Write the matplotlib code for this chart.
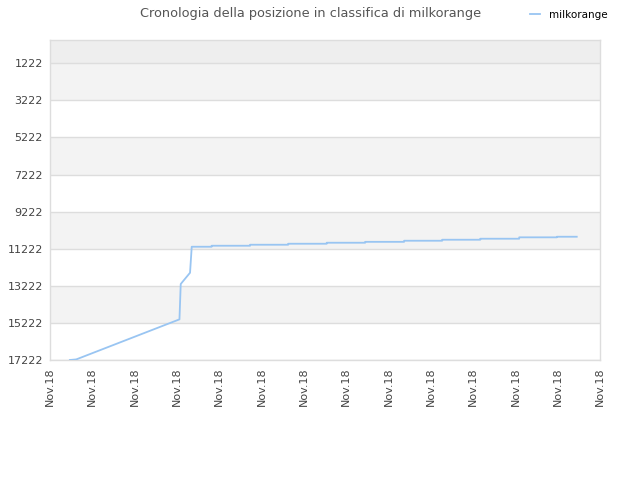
import matplotlib
matplotlib.use("Agg")
import matplotlib.pyplot as plt

# Data (x in tick-interval units, y = ranking position)
x_vals = [0.47, 0.62, 3.06, 3.09, 3.12, 3.31, 3.35, 3.82, 3.82, 4.73, 4.73, 5.63, 5.63, 6.54, 6.54,
          7.45, 7.45, 8.37, 8.37, 9.27, 9.27, 10.17, 10.17, 11.09, 11.09, 11.98, 11.98, 12.45]
ranks = [17222, 17190, 15030, 13126, 13040, 12516, 11114, 11114, 11060, 11060, 11006, 11006, 10952, 10952, 10898,
         10898, 10850, 10850, 10790, 10790, 10736, 10736, 10682, 10682, 10607, 10607, 10575, 10575]
y_ticks = [1222, 3222, 5222, 7222, 9222, 11222, 13222, 15222, 17222]
x_tick_labels = ["Nov.18"] * 14
series_name = "milkorange"
title = "Cronologia della posizione in classifica di milkorange"

fig = plt.figure(figsize=(6.4, 4.8), dpi=100)
ax = fig.add_axes([50/640, 120/480, 550/640, 320/480])

y_top = -35
ax.set_ylim(17222, y_top)
ax.set_xlim(0, 13)

# bands
ax.axhspan(y_top, y_ticks[0], color="#eeeeee", zorder=0, lw=0)
for i in range(0, len(y_ticks) - 1, 2):
    ax.axhspan(y_ticks[i], y_ticks[i + 1], color="#f3f3f3", zorder=0, lw=0)
for t in y_ticks:
    ax.axhline(t, color="#dddddd", lw=1, zorder=1)

ax.plot(x_vals, ranks, color="#99c5f2", lw=1.3, zorder=3, label=series_name)

ax.set_yticks(y_ticks)
ax.set_yticklabels([str(t) for t in y_ticks], fontsize=8, color="#444444")
ax.set_xticks(range(14))
ax.set_xticklabels(x_tick_labels, rotation=90, fontsize=8, color="#444444")
ax.tick_params(length=0, pad=5)

for s in ax.spines.values():
    s.set_color("#dddddd")
    s.set_linewidth(1)

fig.text(311/640, 1 - 13/480, title, ha="center", va="center", fontsize=9.3, color="#555555")
leg = fig.legend(loc="upper left", bbox_to_anchor=(530/640, 1 - 10/480), frameon=False, fontsize=7.5,
                 handlelength=1.0, handletextpad=0.85, borderaxespad=0, borderpad=0)

fig.savefig("out.png", dpi=100)
